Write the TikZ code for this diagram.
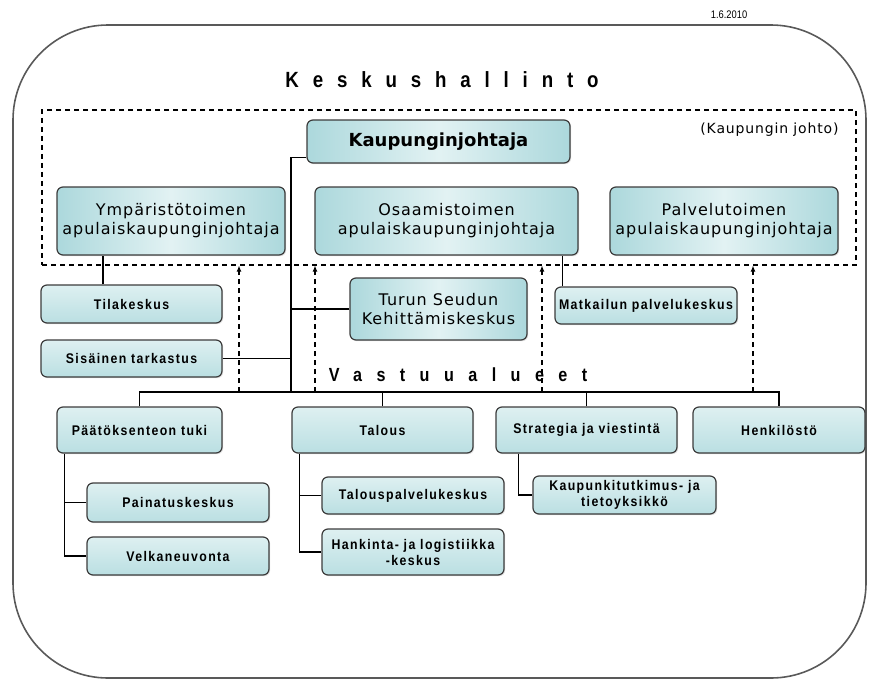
\documentclass[tikz,border=0pt]{standalone}
\usepackage{fontspec}
\setmainfont{DejaVu Sans}
\newfontfamily\boxf{DejaVu Sans}[LetterSpace=6]
\newfontfamily\boldf{DejaVu Sans Bold}
\newfontfamily\smallf{Liberation Sans Bold}[LetterSpace=10,FakeStretch=0.88]
\newfontfamily\datef{Liberation Sans}[FakeStretch=0.85]
\newfontfamily\headf{Liberation Sans Bold}[LetterSpace=63,FakeStretch=0.85]
\newfontfamily\vastf{Liberation Sans Bold}[LetterSpace=76,FakeStretch=0.85]
\usetikzlibrary{arrows.meta,shadows}
\definecolor{boxL}{RGB}{172,216,220}
\definecolor{boxM}{RGB}{226,242,243}
\definecolor{boxT}{RGB}{222,240,241}
\definecolor{boxB}{RGB}{186,223,226}
\definecolor{edge}{RGB}{60,60,60}
\tikzset{
  box/.style={draw=edge, line width=1.2pt, rounded corners=6pt,
    inner sep=0pt, align=center, drop shadow={opacity=0.25, shadow xshift=1.2pt, shadow yshift=-1.2pt}},
  bigbox/.style={box, left color=boxL, right color=boxL, middle color=boxM, font=\boxf\fontsize{16}{19}\selectfont},
  smallbox/.style={box, top color=boxT, bottom color=boxB, font=\smallf\fontsize{14}{16}\selectfont},
  conn/.style={draw=black, line width=1.1pt},
  uparrow/.style={draw=black, line width=1.1pt, dashed, dash pattern=on 5pt off 4pt, -{Latex[length=6pt,width=5pt]}},
}
\begin{document}
\begin{tikzpicture}[x=1pt,y=-1pt]
\useasboundingbox (0,0) rectangle (870,680);
% outer frame
\draw[draw=black!65, line width=1.6pt, rounded corners=95pt] (13,25) rectangle (866,678);
\node[font=\datef\fontsize{11}{12}\selectfont] (date) at (729,15) {1.6.2010};
\node[font=\headf\fontsize{22}{24}\selectfont] (head) at (442,80) {Keskushallinto};
% dashed management box
\node[draw=black, line width=1.1pt, dashed, dash pattern=on 5pt off 4pt, minimum width=814pt, minimum height=155pt, inner sep=0pt] (johto) at (449,187.5) {};
\node[font=\boxf\fontsize{14}{16}\selectfont, anchor=east] (johtolbl) at (842,130) {(Kaupungin johto)};
% top boxes
\node[bigbox, minimum width=263pt, minimum height=43pt, font=\boldf\fontsize{18}{20}\selectfont] (kj) at (438.5,141.5) {Kaupunginjohtaja};
\node[bigbox, minimum width=228pt, minimum height=68pt] (ymp) at (171,221) {Ympäristötoimen\\apulaiskaupunginjohtaja};
\node[bigbox, minimum width=263pt, minimum height=68pt] (osa) at (446.5,221) {Osaamistoimen\\apulaiskaupunginjohtaja};
\node[bigbox, minimum width=228pt, minimum height=68pt] (pal) at (724,221) {Palvelutoimen\\apulaiskaupunginjohtaja};
% middle
\node[smallbox, minimum width=181pt, minimum height=38pt] (til) at (131.5,304) {Tilakeskus};
\node[smallbox, minimum width=181pt, minimum height=37pt] (sis) at (131.5,358.5) {Sisäinen tarkastus};
\node[bigbox, minimum width=177pt, minimum height=62pt] (tur) at (438.5,309) {Turun Seudun\\Kehittämiskeskus};
\node[smallbox, minimum width=182pt, minimum height=37pt] (mat) at (646,305.5) {Matkailun palvelukeskus};
\node[font=\vastf\fontsize{19}{21}\selectfont] (vast) at (458,375) {Vastuualueet};
% bottom row
\node[smallbox, minimum width=165pt, minimum height=46pt] (pat) at (139.5,430) {Päätöksenteon tuki};
\node[smallbox, minimum width=181pt, minimum height=46pt] (tal) at (382.5,430) {Talous};
\node[smallbox, minimum width=181pt, minimum height=46pt] (str) at (586.5,430) {Strategia ja viestintä};
\node[smallbox, minimum width=172pt, minimum height=46pt] (hen) at (779,430) {Henkilöstö};
\node[smallbox, minimum width=182pt, minimum height=39pt] (pai) at (178,502.5) {Painatuskeskus};
\node[smallbox, minimum width=182pt, minimum height=38pt] (vel) at (178,556) {Velkaneuvonta};
\node[smallbox, minimum width=182pt, minimum height=37pt] (tps) at (413,495.5) {Talouspalvelukeskus};
\node[smallbox, minimum width=182pt, minimum height=46pt] (han) at (413,552) {Hankinta- ja logistiikka\\-keskus};
\node[smallbox, minimum width=183pt, minimum height=38pt] (kti) at (624.5,495) {Kaupunkitutkimus- ja\\tietoyksikkö};
% connectors
\coordinate (bus) at (291,392);
\draw[conn] ([yshift=-16pt]kj.west) -| (bus);
\draw[conn] (tur.west) -- (tur.west -| bus);
\draw[conn] (sis.east) -- (sis.east -| bus);
\draw[conn] (pat.north) |- (hen.north |- bus) -- (hen.north);
\draw[conn] (tal.north) -- (tal.north |- bus);
\draw[conn] (str.north) -- (str.north |- bus);
\draw[conn] ([xshift=-28.5pt]til.north) -- ([xshift=-28.5pt]til.north |- ymp.south);
\draw[conn] ([xshift=8pt]mat.north west) -- ([xshift=8pt]mat.north west |- osa.south);
\coordinate (pl) at ([xshift=8pt]pat.south west);
\draw[conn] (pl) |- (vel.west);
\draw[conn] (pai.west) -- (pai.west -| pl);
\coordinate (tl) at ([xshift=8pt]tal.south west);
\draw[conn] (tl) |- (han.west);
\draw[conn] (tps.west) -- (tps.west -| tl);
\coordinate (sl) at ([xshift=23pt]str.south west);
\draw[conn] (sl) |- (kti.west);
% dashed arrows up
\coordinate (a1) at (239,392);
\coordinate (a2) at (315,392);
\coordinate (a3) at (542,392);
\coordinate (a4) at (753,392);
\draw[uparrow] (a1) -- (a1 |- johto.south);
\draw[uparrow] (a2) -- (a2 |- johto.south);
\draw[uparrow] (a3) -- (a3 |- johto.south);
\draw[uparrow] (a4) -- (a4 |- johto.south);
\end{tikzpicture}
\end{document}
